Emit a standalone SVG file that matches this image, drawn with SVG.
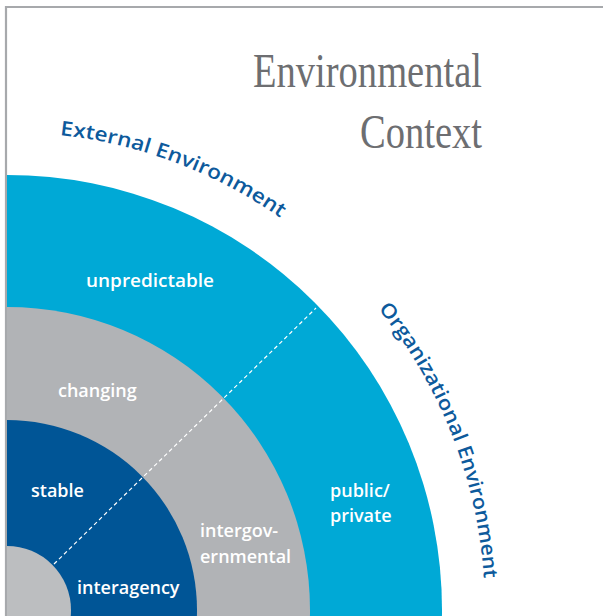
<svg xmlns="http://www.w3.org/2000/svg" width="603" height="616" viewBox="0 0 603 616">
  <style>
    .frame { fill: none; stroke: #a7a9ac; stroke-width: 2.2; }
    .title { font-family: "Liberation Serif", "DejaVu Serif", serif; font-size: 48px; fill: #6d6e71; }
    .arcLabel { font-family: "Open Sans", "Liberation Sans", sans-serif; font-size: 20px; font-weight: 600; fill: #0d5a9c; }
    .ring { font-family: "Open Sans", "Liberation Sans", sans-serif; font-size: 18px; font-weight: 600; fill: #ffffff; }
    .divider { stroke: #ffffff; stroke-width: 1.2; stroke-dasharray: 4 3; fill: none; }
  </style>
  <defs>
    <clipPath id="panel">
      <rect x="7" y="8" width="596" height="608"/>
    </clipPath>
    <!-- shared label circle, clockwise from the top -->
    <path id="labelArc" d="M7,132 A478,478 0 0 1 485,610"/>
  </defs>

  <rect width="603" height="616" fill="#ffffff"/>
  <path class="frame" d="M6,616 V7 H603"/>

  <g clip-path="url(#panel)">
    <g id="external">
      <circle cx="7" cy="610" r="435" fill="#00a9d6"/>
    </g>
    <g id="intermediate">
      <circle cx="7" cy="610" r="303" fill="#b1b3b6"/>
    </g>
    <g id="internal">
      <circle cx="7" cy="610" r="190" fill="#005596"/>
    </g>
    <g id="core">
      <circle cx="7" cy="610" r="64" fill="#bcbec0"/>
    </g>
  </g>

  <g id="connectors">
    <line class="divider" x1="54" y1="564" x2="316" y2="308"/>
  </g>

  <g id="ring-labels">
    <text class="ring" x="86" y="287" textLength="128" lengthAdjust="spacingAndGlyphs">unpredictable</text>
    <text class="ring" x="58" y="397">changing</text>
    <text class="ring" x="31" y="497">stable</text>
    <text class="ring" x="77" y="594">interagency</text>
    <text class="ring" x="200" y="537">intergov-<tspan x="200" dy="26">ernmental</tspan></text>
    <text class="ring" x="330" y="497">public/<tspan x="330" dy="25">private</tspan></text>
  </g>

  <g id="arc-labels">
    <text class="arcLabel"><textPath href="#labelArc" startOffset="53" textLength="238" lengthAdjust="spacingAndGlyphs">External Environment</textPath></text>
    <text class="arcLabel"><textPath href="#labelArc" startOffset="425" textLength="155" lengthAdjust="spacingAndGlyphs">Organizational</textPath></text>
    <text class="arcLabel"><textPath href="#labelArc" startOffset="586" textLength="133" lengthAdjust="spacingAndGlyphs">Environment</textPath></text>
  </g>

  <g id="title">
    <text class="title" x="482" y="87" text-anchor="end" textLength="229" lengthAdjust="spacingAndGlyphs">Environmental</text>
    <text class="title" x="482" y="148" text-anchor="end" textLength="122" lengthAdjust="spacingAndGlyphs">Context</text>
  </g>
</svg>
